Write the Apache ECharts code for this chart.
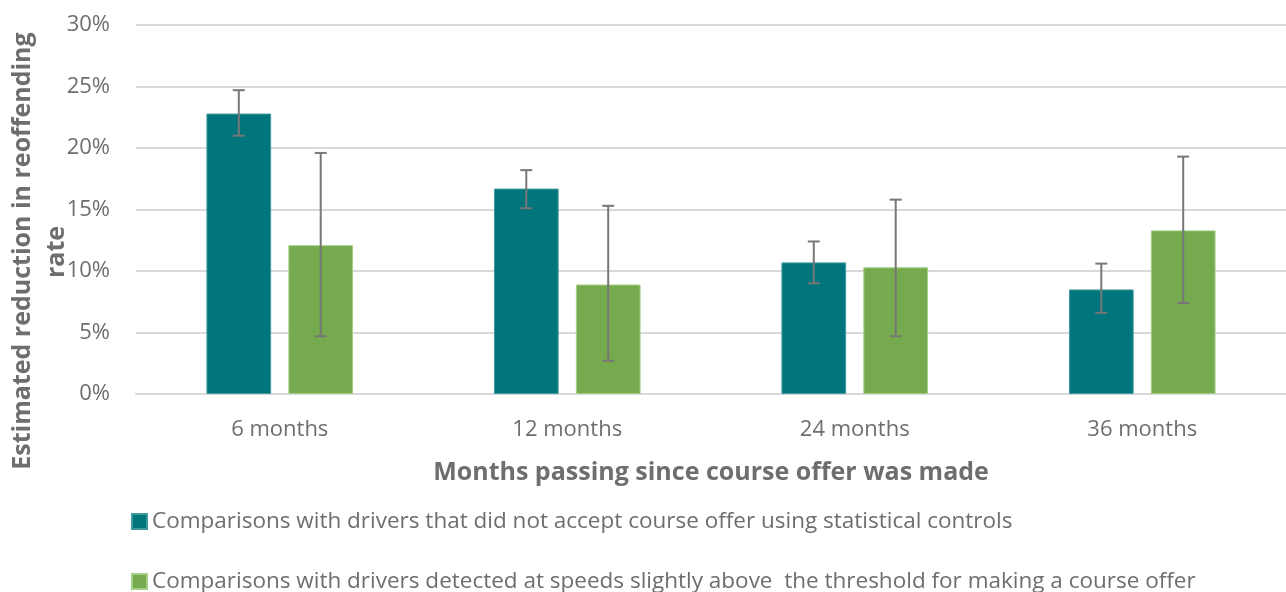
<!DOCTYPE html>
<html>
<head>
<meta charset="utf-8">
<script src="https://cdn.jsdelivr.net/npm/echarts@6/dist/echarts.min.js"></script>
<style>
  html, body { margin: 0; padding: 0; background: #fff; }
  #main { width: 1286px; height: 592px; }
</style>
</head>
<body>
<div id="main"></div>
<script>
var categories = ['6 months', '12 months', '24 months', '36 months']
var seriesNames = [
  'Comparisons with drivers that did not accept course offer using statistical controls',
  'Comparisons with drivers detected at speeds slightly above  the threshold for making a course offer'
]
var controlValues = [22.8, 16.7, 10.7, 8.5]
var controlLow = [21.0, 15.1, 9.0, 6.6]
var controlHigh = [24.7, 18.2, 12.4, 10.6]
var thresholdValues = [12.1, 8.9, 10.3, 13.3]
var thresholdLow = [4.7, 2.7, 4.7, 7.4]
var thresholdHigh = [19.6, 15.3, 15.8, 19.3]
var yTicks = { min: 0, max: 30, interval: 5 }

var textColor = '#6e6e6e'
var font = 'Open Sans'
var catGap = 0.49
var barGap = 0.266

function errorData(low, high) {
  return categories.map(function (c, i) {
    return [i, low[i], high[i]]
  })
}

// where a bar centre sits relative to the category centre, as a share of the band
var offsetShare = ((1 - catGap) / (2 + barGap)) * (1 + barGap) / 2

function errorRenderer(side) {
  return function (params, api) {
    var band = api.size([1, 0])[0]
    var base = api.coord([api.value(0), api.value(2)])
    var x = base[0] + side * band * offsetShare
    var top = base[1]
    var bottom = api.coord([api.value(0), api.value(1)])[1]
    var cap = 6
    var style = { stroke: '#777777', lineWidth: 2 }
    return {
      type: 'group',
      children: [
        { type: 'line', shape: { x1: x, y1: top, x2: x, y2: bottom }, style: style },
        { type: 'line', shape: { x1: x - cap, y1: top, x2: x + cap, y2: top }, style: style },
        { type: 'line', shape: { x1: x - cap, y1: bottom, x2: x + cap, y2: bottom }, style: style }
      ]
    }
  }
}

var legendText = { fontSize: 22.5, color: textColor, fontFamily: font }

var myChart = echarts.init(document.getElementById('main'))
var option = {
  animation: false,
  color: ['#00757C', '#75AA4F'],
  textStyle: { fontFamily: font },
  grid: { left: 136, width: 1155, top: 25, bottom: 198 },
  legend: [
    {
      left: 131,
      top: 510,
      padding: 0,
      itemWidth: 15,
      itemHeight: 15,
      icon: 'rect',
      data: [seriesNames[0]],
      textStyle: legendText
    },
    {
      left: 131,
      top: 570,
      padding: 0,
      itemWidth: 15,
      itemHeight: 15,
      icon: 'rect',
      data: [seriesNames[1]],
      textStyle: legendText
    }
  ],
  graphic: [
    {
      type: 'text',
      x: 23,
      y: 251,
      rotation: Math.PI / 2,
      style: {
        text: 'Estimated reduction in reoffending',
        font: 'bold 25px "Open Sans"',
        fill: textColor,
        align: 'center',
        verticalAlign: 'middle'
      }
    },
    {
      type: 'text',
      x: 57,
      y: 252,
      rotation: Math.PI / 2,
      style: {
        text: 'rate',
        font: 'bold 25px "Open Sans"',
        fill: textColor,
        align: 'center',
        verticalAlign: 'middle'
      }
    }
  ],
  xAxis: {
    type: 'category',
    data: categories,
    name: 'Months passing since course offer was made',
    nameLocation: 'middle',
    nameGap: 66,
    nameTextStyle: { fontSize: 25, fontWeight: 'bold', color: textColor },
    axisLine: { lineStyle: { color: '#D9D9D9', width: 2 } },
    axisTick: { show: false },
    axisLabel: { fontSize: 22, color: textColor, margin: 25 }
  },
  yAxis: {
    type: 'value',
    min: yTicks.min,
    max: yTicks.max,
    interval: yTicks.interval,
    axisLabel: { formatter: '{value}%', fontSize: 22, color: textColor, margin: 26 },
    splitLine: { lineStyle: { color: '#D9D9D9', width: 2 } },
    axisLine: { show: false },
    axisTick: { show: false }
  },
  series: [
    {
      name: seriesNames[0],
      type: 'bar',
      data: controlValues,
      barGap: barGap * 100 + '%',
      barCategoryGap: catGap * 100 + '%',
      itemStyle: { borderColor: '#3f9aa0', borderWidth: 1 }
    },
    {
      name: seriesNames[1],
      type: 'bar',
      data: thresholdValues,
      itemStyle: { borderColor: '#a3cf86', borderWidth: 1 }
    },
    {
      type: 'custom',
      renderItem: errorRenderer(-1),
      data: errorData(controlLow, controlHigh),
      encode: { x: 0, y: [1, 2] },
      z: 10
    },
    {
      type: 'custom',
      renderItem: errorRenderer(1),
      data: errorData(thresholdLow, thresholdHigh),
      encode: { x: 0, y: [1, 2] },
      z: 10
    }
  ]
}
myChart.setOption(option)
</script>
</body>
</html>
